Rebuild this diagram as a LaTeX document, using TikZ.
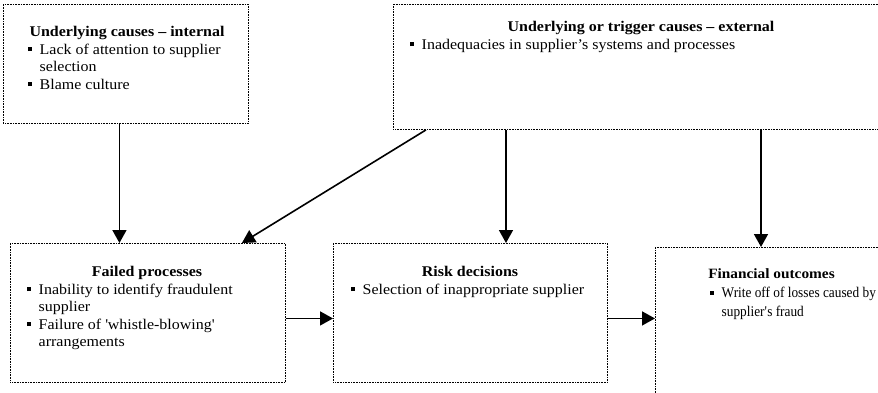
\documentclass[tikz,border=0pt]{standalone}
\usepackage{fontspec}
\setmainfont{Liberation Serif}[FakeStretch=1.08]
\newfontfamily\narrowserif{Liberation Serif}[FakeStretch=0.9]
\usepackage{tikz}
\usetikzlibrary{arrows.meta,positioning}

\newcommand{\bul}{\makebox[11.5pt][l]{\rule[3pt]{4pt}{4pt}}}
\newcommand{\hangsp}{\hspace*{11.5pt}}

\begin{document}
\begin{tikzpicture}[x=1pt, y=-1pt,
	font=\fontsize{14.8}{17.5}\selectfont,
	cbox/.style={draw, dash pattern=on 1pt off 0.6pt, line width=0.9pt, anchor=north west, inner sep=0pt},
	head/.style={font=\fontsize{14.8}{17.5}\selectfont\bfseries, anchor=base, inner sep=0pt},
	body/.style={anchor=north west, inner sep=0pt, align=left},
	arr/.style={-{Triangle[length=13pt,width=14pt]}, line width=1.6pt}]
	\useasboundingbox (0,0) rectangle (878,393);
	% boxes
	\node[cbox, minimum width=245, minimum height=119] (intl) at (3,4) {};
	\node[cbox, minimum width=496, minimum height=125] (ext) at (393,4) {};
	\node[cbox, minimum width=275, minimum height=139] (failed) at (10,243) {};
	\node[cbox, minimum width=274, minimum height=139] (risk) at (333,243) {};
	\node[cbox, minimum width=233, minimum height=149] (fin) at (655,247) {};
	% texts
	\node[head] (intl-h) at (127,36.5) {Underlying causes -- internal};
	\node[body] (intl-b) at (28,41.75) {\strut\bul Lack of attention to supplier\\ \hangsp selection\\ \bul Blame culture};
	\node[head] (ext-h) at (641,32) {Underlying or trigger causes -- external};
	\node[body] (ext-b) at (410,36.75) {\strut\bul Inadequacies in supplier’s systems and processes};
	\node[head] (failed-h) at (147,276) {Failed processes};
	\node[body] (failed-b) at (27,281.75) {\strut\bul Inability to identify fraudulent\\ \hangsp supplier\\ \bul Failure of \textquotesingle whistle-blowing\textquotesingle\\ \hangsp arrangements};
	\node[head] (risk-h) at (470,276) {Risk decisions};
	\node[body] (risk-b) at (351,281.75) {\strut\bul Selection of inappropriate supplier};
	\node[head, font=\fontsize{14.2}{17.5}\selectfont\bfseries] (fin-h) at (771.5,278) {Financial outcomes};
	\node[body, font=\fontsize{14.8}{19}\selectfont\narrowserif] (fin-b) at (710,284) {\strut\bul Write off of losses caused by\\ \hangsp supplier\textquotesingle s fraud};
	% arrows
	\draw[arr] ([xshift=-6.5pt]intl.south) -- ([xshift=-6.5pt]intl.south |- failed.north);
	\draw[arr] ([xshift=33pt]ext.south west) -- ([xshift=-44pt]failed.north east);
	\draw[arr] ([xshift=113pt]ext.south west) -- ([xshift=113pt]ext.south west |- risk.north);
	\draw[arr] ([xshift=368pt]ext.south west) -- ([xshift=368pt]ext.south west |- fin.north);
	\draw[arr] ([yshift=-5.5pt]failed.east) -- ([yshift=-5.5pt]failed.east -| risk.west);
	\draw[arr] ([yshift=-5.5pt]risk.east) -- ([yshift=-5.5pt]risk.east -| fin.west);
\end{tikzpicture}
\end{document}
